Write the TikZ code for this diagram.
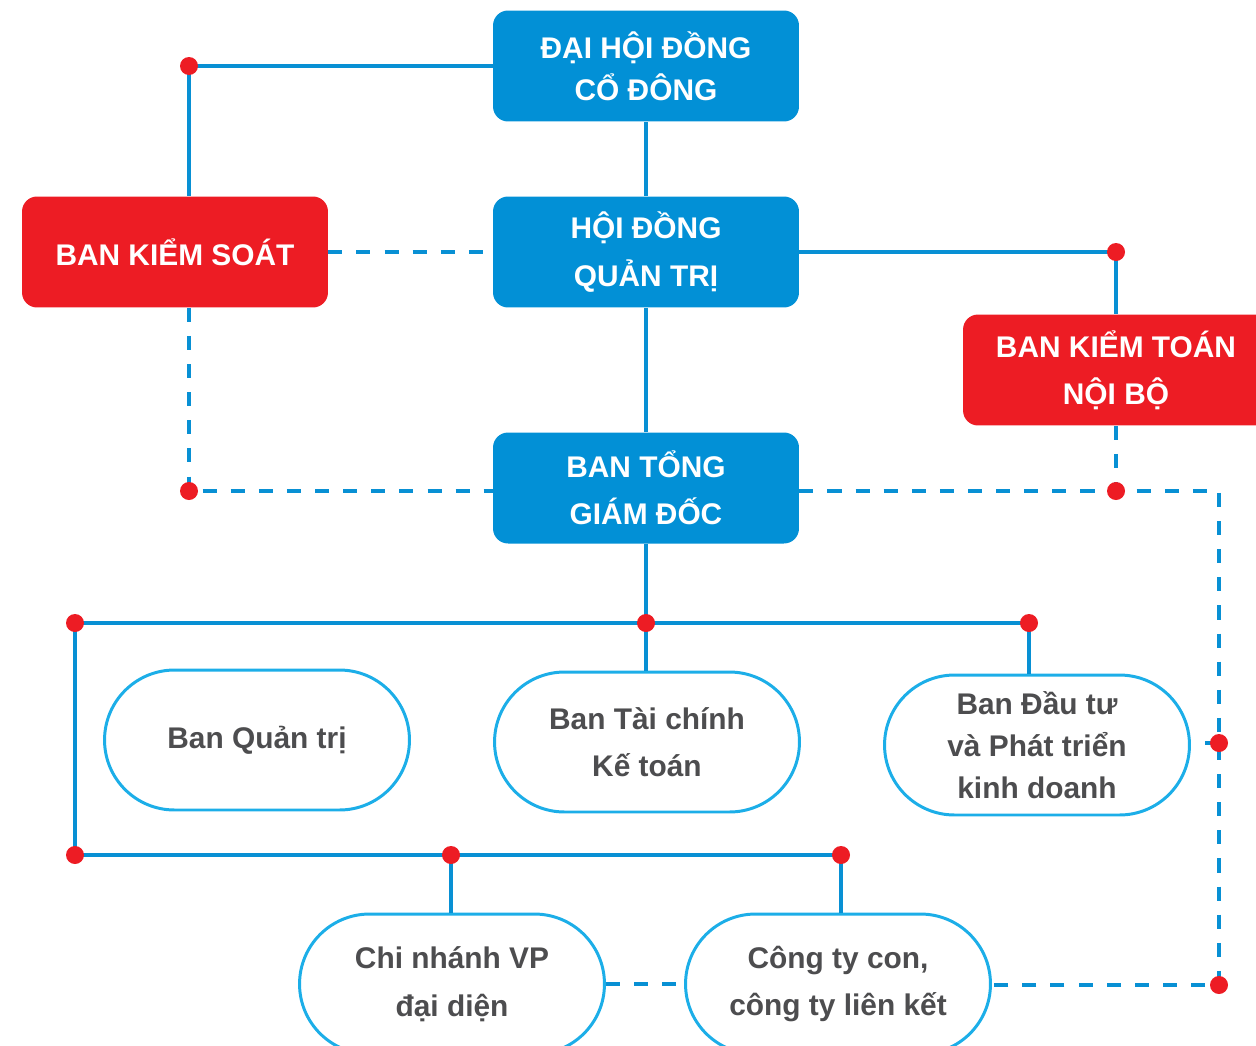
\documentclass[tikz,border=0pt]{standalone}
\usepackage{fontspec}
\setmainfont{Liberation Sans}
\usetikzlibrary{positioning}

\definecolor{boxblue}{RGB}{2,144,214}
\definecolor{boxred}{RGB}{237,28,36}
\definecolor{lineblue}{RGB}{8,144,212}
\definecolor{pillblue}{RGB}{28,174,232}
\definecolor{textgray}{RGB}{77,77,79}

\tikzset{
  box/.style={rectangle, rounded corners=0.3cm, minimum width=6.12cm, minimum height=2.22cm,
    fill=boxblue, text=white, align=center, font=\bfseries\fontsize{17}{27}\selectfont},
  redbox/.style={box, fill=boxred},
  pill/.style={rectangle, rounded corners=1.4cm, draw=pillblue, line width=1.7pt, fill=white,
    minimum width=6.1cm, minimum height=2.8cm, text=textgray, align=center,
    font=\bfseries\fontsize{17}{27}\selectfont},
  link/.style={lineblue, line width=2.3pt},
  dlink/.style={link, dash pattern=on 8pt off 8pt},
}

\begin{document}
\begin{tikzpicture}[x=0.02cm,y=-0.02cm]
\useasboundingbox (0,0) rectangle (1256,1045);
\clip (0,0) rectangle (1256,1045);

% boxes
\node[box] (dhdcd) at (646,66) {ĐẠI HỘI ĐỒNG\\[-3pt]CỔ ĐÔNG};
\node[box] (hdqt) at (646,252) {HỘI ĐỒNG\\QUẢN TRỊ};
\node[redbox] (bks) at (175,252) {BAN KIỂM SOÁT};
\node[redbox] (bktnb) at (1116,370) {BAN KIỂM TOÁN\\NỘI BỘ};
\node[box] (btgd) at (646,488) {BAN TỔNG\\GIÁM ĐỐC};

% departments
\node[pill] (bqt) at (257,740) {Ban Quản trị};
\node[pill] (btc) at (647,742) {Ban Tài chính\\Kế toán};
\node[pill] (bdt) at (1037,745) {Ban Đầu tư\\[-3pt]và Phát triển\\[-3pt]kinh doanh};
\node[pill] (cn) at (452,984) {Chi nhánh VP\\đại diện};
\node[pill] (cty) at (838,984) {Công ty con,\\công ty liên kết};

% joints
\coordinate (d1) at (189,66);
\coordinate (d2) at (1116,252);
\coordinate (d3) at (189,491);
\coordinate (d4) at (1116,491);
\coordinate (d5) at (1219,743);
\coordinate (d6) at (1219,985);
\coordinate (d7) at (646,623);
\coordinate (d8) at (75,623);
\coordinate (d9) at (1029,623);
\coordinate (d10) at (75,855);
\coordinate (d11) at (451,855);
\coordinate (d12) at (841,855);
\coordinate (bend) at (1219,491);

% solid links
\draw[link] (dhdcd.west) -- (d1) -- (d1 |- bks.north);
\draw[link] (dhdcd) -- (hdqt);
\draw[link] (hdqt.east) -- (d2) -- (d2 |- bktnb.north);
\draw[link] (hdqt) -- (btgd);
\draw[link] (btgd) -- (d7) -- (d7 |- btc.north);
\draw[link] (d8) -- (d9) -- (d9 |- bdt.north);
\draw[link] (d8) -- (d10) -- (d12) -- (d12 |- cty.north);
\draw[link] (d11) -- (d11 |- cn.north);

% dashed links
\draw[dlink] (bks) -- (hdqt);
\draw[dlink] (d3 |- bks.south) -- (d3) -- (d3 -| btgd.west);
\draw[dlink] (d4 |- bktnb.south) -- (d4);
\draw[dlink] (d4 -| btgd.east) -- (d4) -- (bend) -- (d5) -- (d6) -- (d6 -| cty.east);
\draw[dlink] (d5) -- (d5 -| bdt.east);
\draw[dlink] (cn) -- (cty);

\foreach \p in {d1,d2,d3,d4,d5,d6,d7,d8,d9,d10,d11,d12}
  \fill[boxred] (\p) circle (0.18cm);
\end{tikzpicture}
\end{document}
